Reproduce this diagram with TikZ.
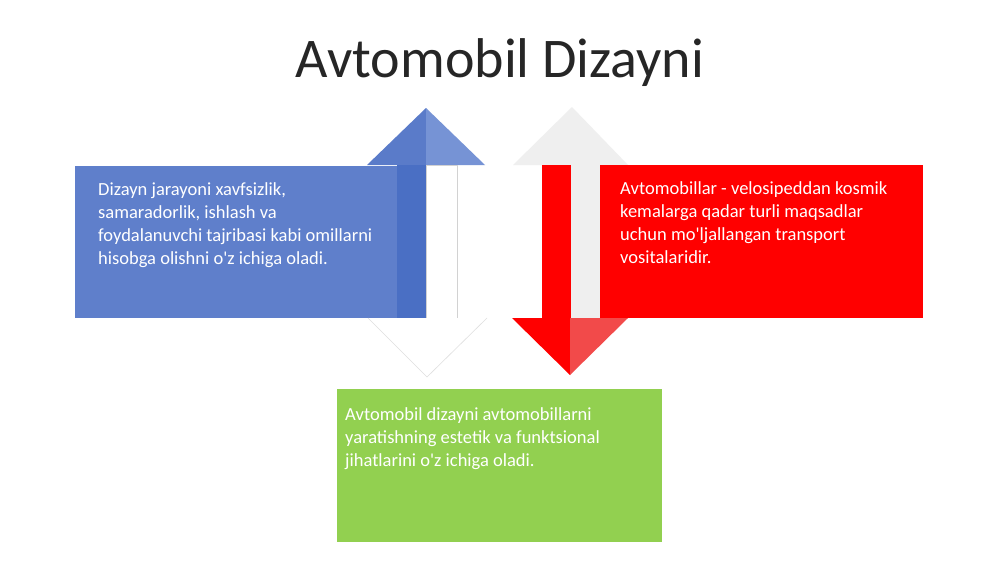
\documentclass[tikz,border=0pt]{standalone}
\usepackage{fontspec}
\setmainfont{Carlito}
\usetikzlibrary{positioning}

\definecolor{boxblue}{HTML}{5F7FCB}
\definecolor{stripblue}{HTML}{4A6FC4}
\definecolor{headblueL}{HTML}{5A7BC9}
\definecolor{headblueR}{HTML}{7693D5}
\definecolor{lightgrey}{HTML}{EFEFEF}
\definecolor{softred}{HTML}{F24A4A}
\definecolor{boxgreen}{HTML}{92D050}
\definecolor{titlegrey}{HTML}{262626}

\newcommand{\apos}{\textquotesingle}

\begin{document}
\begin{tikzpicture}[x=1pt,y=-1pt,
  box/.style={anchor=north west, inner sep=0pt, draw=none},
  txt/.style={anchor=base west, align=left, inner sep=0pt, text=white,
    font=\fontsize{18.5}{23}\selectfont}]

  \useasboundingbox[fill=white] (0,0) rectangle (1000,562);

  % title
  \node[anchor=base, text=titlegrey, font=\fontsize{56}{60}\selectfont] (title) at (500,77) {Avtomobil Dizayni};

  % left box
  \node[box, fill=boxblue, minimum width=351pt, minimum height=152pt] (bluebox) at (75,166) {};

  % left pair of arrows
  \fill[headblueL] (367,165) -- (426,108) -- (426,165) -- cycle;
  \fill[headblueR] (426,108) -- (485,165) -- (426,165) -- cycle;
  \fill[stripblue] (397,165) rectangle (426,318);
  \filldraw[fill=white, draw=gray!35, line width=0.6pt] (426,165) rectangle (457,318);
  \filldraw[fill=white, draw=gray!25, line width=0.6pt] (368,318) -- (427,377) -- (487,318);

  % right pair of arrows
  \fill[lightgrey] (513,165) -- (572,107) -- (628,165) -- cycle;
  \fill[lightgrey] (571,165) rectangle (600,318);
  \fill[red] (542,165) rectangle (571,318);
  \fill[red] (512,318) -- (570,375) -- (570,318) -- cycle;
  \fill[softred] (570,318) -- (570,375) -- (628,318) -- cycle;

  % right and bottom boxes
  \node[box, fill=red, minimum width=323pt, minimum height=153pt] (redbox) at (600,165) {};
  \node[box, fill=boxgreen, minimum width=325pt, minimum height=153pt] (greenbox) at (337,389) {};

  % texts (anchored at the baseline of the last line)
  \node[txt] (bluetext) at (98,264) {Dizayn jarayoni xavfsizlik,\\ samaradorlik, ishlash va\\ foydalanuvchi tajribasi kabi omillarni\\ hisobga olishni o\apos z ichiga oladi.};
  \node[txt] (redtext) at (620,263) {Avtomobillar - velosipeddan kosmik\\ kemalarga qadar turli maqsadlar\\ uchun mo\apos ljallangan transport\\ vositalaridir.};
  \node[txt] (greentext) at (345,466) {Avtomobil dizayni avtomobillarni\\ yaratishning estetik va funktsional\\ jihatlarini o\apos z ichiga oladi.};

\end{tikzpicture}
\end{document}
